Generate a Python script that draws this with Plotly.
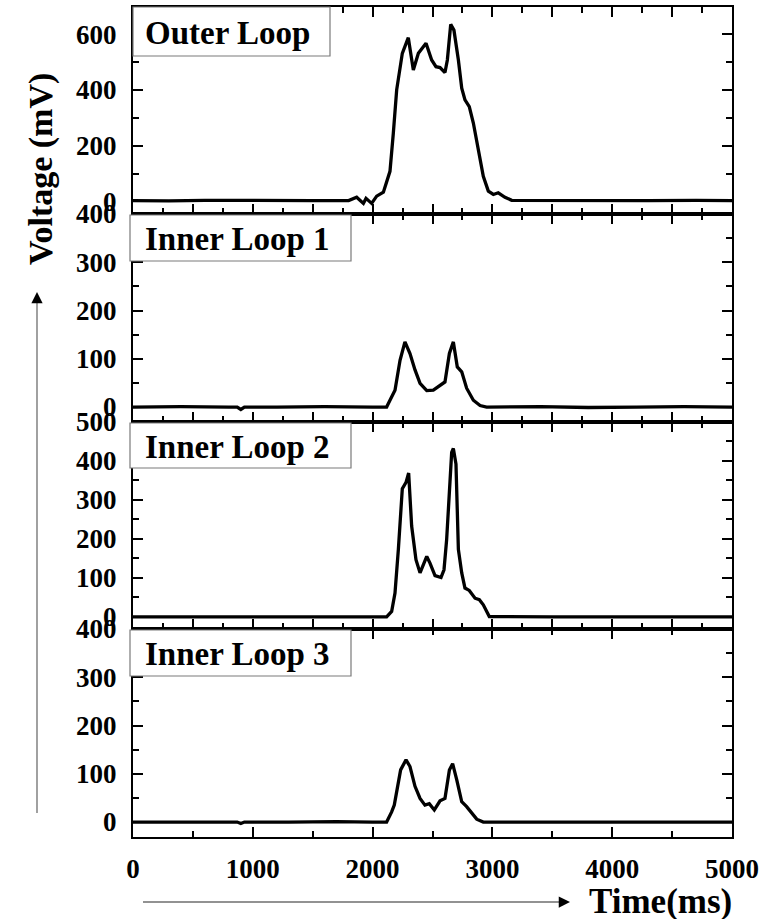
import plotly.graph_objects as go

# ---------------- data ----------------
panel_names = ["Outer Loop", "Inner Loop 1", "Inner Loop 2", "Inner Loop 3"]

t_outer = [0, 300, 600, 900, 1200, 1500, 1800, 1867, 1923, 1945, 1992, 2034, 2090, 2145, 2173,
           2201, 2248, 2298, 2340, 2382, 2446, 2493, 2529, 2563, 2604, 2624, 2652, 2679, 2716, 2744,
           2771, 2807, 2841, 2883, 2924, 2966, 3008, 3049, 3105, 3161, 3500, 3900, 4300, 4700, 5000]
v_outer = [3, 2, 4, 3, 2, 3, 3, 15, -7, 11, -7, 19, 33, 108, 245,
           400, 531, 587, 471, 531, 567, 507, 483, 480, 462, 507, 635, 614, 507, 406,
           364, 340, 281, 186, 90, 37, 25, 31, 15, 4, 3, 4, 3, 4, 3]

t_inner1 = [0, 400, 800, 870, 900, 930, 1200, 1600, 2000, 2117, 2145, 2187, 2229, 2270, 2312,
            2354, 2396, 2452, 2507, 2563, 2604, 2641, 2674, 2707, 2744, 2785, 2841, 2897, 2952, 3400,
            3800, 4200, 4600, 5000]
v_inner1 = [0, 1, 0, 0, -5, 0, 0, 1, 0, 0, 14, 35, 97, 135, 111,
            77, 49, 34, 35, 44, 52, 111, 135, 83, 73, 39, 14, 3, 0, 1,
            -1, 0, 1, 0]

t_inner2 = [0, 500, 1000, 1500, 2000, 2117, 2159, 2187, 2215, 2248, 2279, 2301, 2326, 2362, 2396,
            2423, 2452, 2479, 2521, 2571, 2596, 2618, 2641, 2660, 2674, 2696, 2716, 2744, 2771, 2807,
            2855, 2891, 2924, 2974, 3500, 4000, 4500, 5000]
v_inner2 = [0, 0, 1, 0, 0, 0, 14, 61, 173, 329, 345, 369, 233, 147, 113,
            134, 155, 138, 106, 101, 121, 198, 336, 422, 432, 392, 173, 113, 74, 68,
            48, 44, 31, 1, 0, 0, 0, 0]

t_inner3 = [0, 500, 870, 900, 930, 1300, 1700, 2000, 2117, 2159, 2181, 2234, 2279, 2312, 2354,
            2396, 2437, 2473, 2515, 2563, 2604, 2641, 2668, 2702, 2744, 2785, 2827, 2869, 2924, 3500,
            4000, 4500, 5000]
v_inner3 = [0, 0, 0, -3, 0, 0, 1, 0, 0, 21, 35, 108, 129, 115, 74,
            49, 35, 38, 25, 44, 49, 108, 121, 88, 42, 32, 18, 6, 0, 0,
            1, 0, 0]

x_ticks_bottom = [0, 1000, 2000, 3000, 4000, 5000]
y_ranges = [[-45, 697], [-31, 400], [-31, 500], [-31, 400]]
y_dticks = [200, 100, 100, 100]
y_minor = [100, 50, 50, 50]

series = [(t_outer, v_outer), (t_inner1, v_inner1), (t_inner2, v_inner2), (t_inner3, v_inner3)]

# ---------------- layout geometry ----------------
W, H = 772, 919
L, R, T, B = 133, 40, 7, 82
PW = W - L - R
PH = H - T - B
bounds = [7, 214, 422, 629, 837]  # pixel rows of panel boundaries


def px(xp):
    return (xp - L) / PW


def py(yp):
    return (H - B - yp) / PH


FONT = "Liberation Serif"

fig = go.Figure()
layout = dict(
    width=W, height=H,
    margin=dict(l=L, r=R, t=T, b=B, autoexpand=False),
    paper_bgcolor="white", plot_bgcolor="white",
    showlegend=False,
    font=dict(family=FONT, color="black"),
)

for i, (tt, vv) in enumerate(series):
    n = i + 1
    xa = "x" if n == 1 else f"x{n}"
    ya = "y" if n == 1 else f"y{n}"
    fig.add_trace(go.Scatter(x=tt, y=vv, mode="lines", xaxis=xa, yaxis=ya,
                             line=dict(color="black", width=3.3)))
    top, bot = bounds[i], bounds[i + 1]
    dom = [py(bot), py(top)]
    is_bottom = (n == 4)
    layout["xaxis" if n == 1 else f"xaxis{n}"] = dict(
        domain=[0, 1], anchor=ya, range=[0, 5000], automargin=False,
        showline=True, linecolor="black", linewidth=2, mirror="ticks",
        ticks="inside", ticklen=10, tickwidth=2, tickcolor="black",
        tickmode="array" if is_bottom else "linear",
        tickvals=x_ticks_bottom if is_bottom else None,
        dtick=None if is_bottom else 500,
        tick0=0,
        minor=dict(ticks="inside", ticklen=6, tickwidth=2, tickcolor="black",
                   dtick=500 if is_bottom else 250, tick0=0),
        showticklabels=is_bottom,
        tickfont=dict(family=FONT, size=27, color="black", weight="bold"),
        ticklabelstandoff=7,
        showgrid=False, zeroline=False, fixedrange=True,
    )
    layout["yaxis" if n == 1 else f"yaxis{n}"] = dict(
        domain=dom, anchor=xa, range=y_ranges[i], automargin=False,
        showline=True, linecolor="black", linewidth=2, mirror="ticks",
        ticks="inside", ticklen=10, tickwidth=2, tickcolor="black",
        dtick=y_dticks[i], tick0=0,
        minor=dict(ticks="inside", ticklen=6, tickwidth=2, tickcolor="black",
                   dtick=y_minor[i], tick0=0),
        tickfont=dict(family=FONT, size=27, color="black", weight="bold"),
        ticklabelstandoff=9,
        showgrid=False, zeroline=False, fixedrange=True,
    )

# label boxes
boxes = [(133, 7, 330, 56), (130, 215, 351, 261), (130, 423, 351, 468), (130, 630, 351, 676)]
shapes = []
annotations = []
for name, (x0, y0, x1, y1) in zip(panel_names, boxes):
    shapes.append(dict(type="rect", xref="paper", yref="paper",
                       x0=px(x0), x1=px(x1), y0=py(y1), y1=py(y0),
                       line=dict(color="#7a7a7a", width=1.2), fillcolor="white", layer="above"))
    annotations.append(dict(text=f"<b>{name}</b>", xref="paper", yref="paper",
                            x=px(143), y=py((y0 + y1) / 2 + 1), xanchor="left", yanchor="middle",
                            showarrow=False, font=dict(family=FONT, size=33, color="black")))

# axis titles
annotations.append(dict(text="<b>Voltage (mV)</b>", xref="paper", yref="paper",
                        x=px(41), y=py(169), textangle=-90, xanchor="center", yanchor="middle",
                        showarrow=False, font=dict(family=FONT, size=34, color="black")))
annotations.append(dict(text="<b>Time(ms)</b>", xref="paper", yref="paper",
                        x=px(660), y=py(901), xanchor="center", yanchor="middle",
                        showarrow=False, font=dict(family=FONT, size=35, color="black")))

# arrows: grey shafts + black heads
shapes.append(dict(type="line", xref="paper", yref="paper",
                   x0=px(37), x1=px(37), y0=py(813), y1=py(300),
                   line=dict(color="#6e6e6e", width=1.3)))
shapes.append(dict(type="line", xref="paper", yref="paper",
                   x0=px(143), x1=px(562), y0=py(902), y1=py(902),
                   line=dict(color="#6e6e6e", width=1.3)))
annotations.append(dict(text="", xref="paper", yref="paper", x=px(37), y=py(292),
                        axref="pixel", ayref="pixel", ax=0, ay=12,
                        showarrow=True, arrowhead=2, arrowsize=1.5, arrowwidth=1.5,
                        arrowcolor="black"))
annotations.append(dict(text="", xref="paper", yref="paper", x=px(570), y=py(902),
                        axref="pixel", ayref="pixel", ax=-12, ay=0,
                        showarrow=True, arrowhead=2, arrowsize=1.5, arrowwidth=1.5,
                        arrowcolor="black"))

layout["shapes"] = shapes
layout["annotations"] = annotations
fig.update_layout(**layout)
fig.write_html("out.html", config={"displayModeBar": False},
               post_script="document.body.style.margin='0';document.body.style.overflow='hidden';")
